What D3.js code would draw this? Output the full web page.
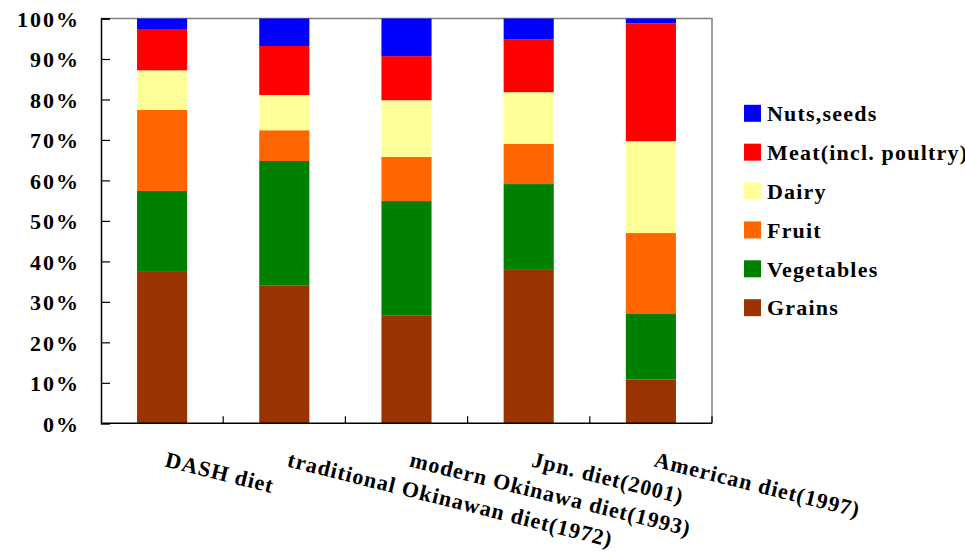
<!DOCTYPE html>
<html>
<head>
<meta charset="utf-8">
<script src="https://cdn.jsdelivr.net/npm/d3@7"></script>
<style>
  html, body { margin: 0; padding: 0; background: #fff; }
  svg { display: block; }
  text { font-family: "Liberation Serif", "Times New Roman", serif; font-weight: bold; fill: #000; }
</style>
</head>
<body>
<script>
// Food-group share of each diet (percent of total servings)
const categories = [
  "DASH diet",
  "traditional Okinawan diet(1972)",
  "modern Okinawa diet(1993)",
  "Jpn. diet(2001)",
  "American diet(1997)"
];
const seriesNames = ["Grains", "Vegetables", "Fruit", "Dairy", "Meat(incl. poultry)", "Nuts,seeds"];
const seriesColors = ["#993300", "#008000", "#FF6600", "#FFFF99", "#FF0000", "#0000FF"];

const grains     = [37.4, 34.1, 26.7, 37.9, 10.8];
const vegetables = [20.0, 30.7, 28.2, 21.2, 16.2];
const fruit      = [20.0,  7.6, 10.9,  9.9, 20.0];
const dairy      = [ 9.8,  8.7, 14.0, 12.8, 22.7];
const meat       = [10.2, 12.1, 10.9, 13.1, 29.1];
const nuts       = [ 2.6,  6.8,  9.3,  5.1,  1.2];

const yTicks = [0, 10, 20, 30, 40, 50, 60, 70, 80, 90, 100];

const seriesValues = [grains, vegetables, fruit, dairy, meat, nuts];

const W = 965, H = 556;
const plot = { left: 101, right: 712, top: 18.5, bottom: 423.3 };

const svg = d3.select("body").append("svg")
  .attr("width", W).attr("height", H);

const x = d3.scaleBand()
  .domain(categories)
  .range([plot.left, plot.right])
  .paddingInner(0.59)
  .paddingOuter(0.295);

const y = d3.scaleLinear().domain([0, 100]).range([plot.bottom, plot.top]);

// Stack rows: one record per diet
const rows = categories.map((c, i) => {
  const r = { category: c };
  seriesNames.forEach((s, k) => { r[s] = seriesValues[k][i]; });
  return r;
});
const stacked = d3.stack().keys(seriesNames)(rows);
const color = d3.scaleOrdinal().domain(seriesNames).range(seriesColors);

// plot frame: gray top / right edges
svg.append("path")
  .attr("d", `M${plot.left},${plot.top}H${plot.right}V${plot.bottom}`)
  .attr("fill", "none").attr("stroke", "#808080").attr("stroke-width", 1.5);

// bars
svg.append("g").selectAll("g")
  .data(stacked)
  .join("g")
  .attr("fill", d => color(d.key))
  .selectAll("rect")
  .data(d => d)
  .join("rect")
  .attr("x", d => x(d.data.category))
  .attr("width", x.bandwidth())
  .attr("y", d => y(d[1]))
  .attr("height", d => y(d[0]) - y(d[1]));

// y axis with inward ticks
const yAxis = d3.axisLeft(y)
  .tickValues(yTicks)
  .tickFormat(d => d + "%")
  .tickSize(-9)
  .tickPadding(21);
const gy = svg.append("g")
  .attr("transform", `translate(${plot.left},0)`)
  .call(yAxis);
gy.attr("font-family", null).attr("font-size", null);
gy.select(".domain").attr("stroke", "#000").attr("stroke-width", 1.5);
gy.selectAll(".tick line").attr("stroke", "#000").attr("stroke-width", 1.2);
gy.selectAll(".tick text")
  .attr("font-size", 22)
  .attr("letter-spacing", "2px")
  .attr("dy", "0.36em")
  .attr("fill", "#000");

// x axis: ticks between categories, pointing up
const boundaries = categories.map(c => x(c) - x.step() * x.paddingInner() / 2)
  .concat([plot.right]);
const gx = svg.append("g");
gx.append("line")
  .attr("x1", plot.left).attr("x2", plot.right)
  .attr("y1", plot.bottom).attr("y2", plot.bottom)
  .attr("stroke", "#000").attr("stroke-width", 1.5);
gx.selectAll("line.tk")
  .data(boundaries.slice(1))
  .join("line")
  .attr("class", "tk")
  .attr("x1", d => d).attr("x2", d => d)
  .attr("y1", plot.bottom).attr("y2", plot.bottom - 7)
  .attr("stroke", "#000").attr("stroke-width", 1.2);

// rotated category labels
gx.selectAll("text")
  .data(categories)
  .join("text")
  .attr("transform", d => `translate(${x(d) + x.bandwidth() / 2 + 2},${plot.bottom + 43}) rotate(14)`)
  .attr("text-anchor", "start")
  .attr("font-size", 22)
  .attr("letter-spacing", "1px")
  .text(d => d);

// legend, top entry is the top of the stack
const legendOrder = seriesNames.slice().reverse();
const ly = d3.scalePoint().domain(legendOrder).range([113.3, 307.7]);
const lg = svg.append("g").selectAll("g")
  .data(legendOrder)
  .join("g")
  .attr("transform", d => `translate(744,${ly(d)})`);
lg.append("rect")
  .attr("x", 0).attr("y", -8.5)
  .attr("width", 17).attr("height", 17)
  .attr("fill", d => color(d));
lg.append("text")
  .attr("x", 23).attr("y", 0).attr("dy", "0.35em")
  .attr("font-size", 22)
  .attr("letter-spacing", "1.2px")
  .text(d => d);
</script>
</body>
</html>
